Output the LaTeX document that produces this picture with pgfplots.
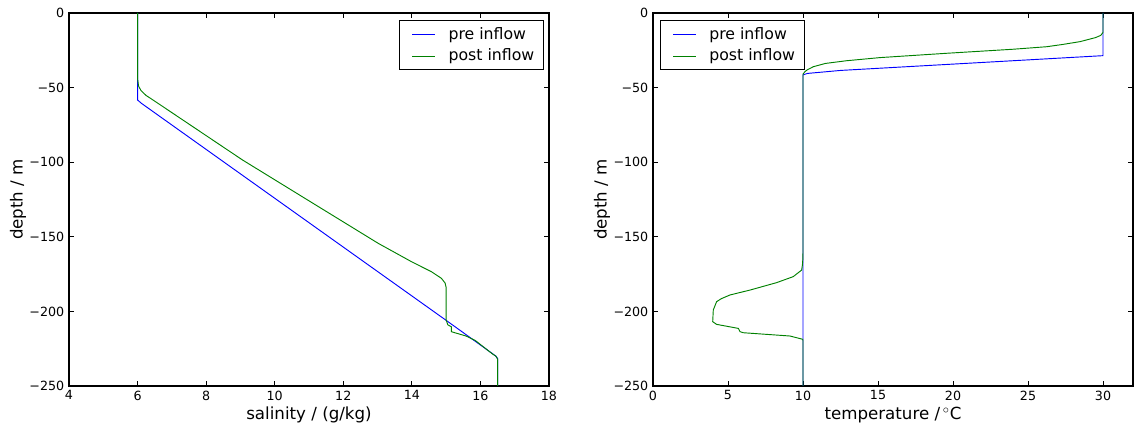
\documentclass[border=0pt]{standalone}
\usepackage{fontspec}
\setmainfont{DejaVu Sans}
\usepackage{pgfplots}
\pgfplotsset{compat=1.18}
\definecolor{preblue}{rgb}{0,0,1}
\definecolor{postgreen}{rgb}{0,0.5,0}

\pgfplotsset{
  profile/.style={
    scale only axis,width=360pt,height=279.75pt,anchor=south west,
    ymin=-250,ymax=0,
    ytick={-250,-200,-150,-100,-50,0},
    yticklabels={−250,−200,−150,−100,−50,0},
    tick label style={font=\fontsize{9.5}{11}\selectfont},
    /pgf/number format/assume math mode=true,
    ylabel={depth / m},
    every axis y label/.style={at={(axis description cs:-0.106,0.5)},rotate=90,anchor=center,
      inner sep=0pt,font=\fontsize{12.5}{14}\selectfont},
    every axis x label/.style={at={(axis description cs:0.5,-0.077)},anchor=center,
      inner sep=0pt,font=\fontsize{12.5}{14}\selectfont},
    axis line style={line width=0.8pt},
    major tick style={line width=0.7pt,black},
    major tick length=4pt,
    minor tick num=0,
    legend style={font=\fontsize{11.8}{14}\selectfont,draw=black,line width=0.6pt,
      inner xsep=5pt,inner ysep=3pt,row sep=2pt},
    legend cell align=left,
    legend image code/.code={\draw[#1,line width=0.75pt] (4.25pt,0pt) -- (21.5pt,0pt);
      \path (0pt,0pt) (29pt,0pt);},
  }
}

\begin{document}
\begin{tikzpicture}
\path[use as bounding box] (0,0) rectangle (855pt,317.25pt);

\begin{axis}[profile,at={(51.75pt,27.75pt)},
  xmin=4,xmax=18,xtick={4,6,...,18},
  xlabel={salinity / (g/kg)},
  legend style={at={(axis description cs:0.9896,0.9812)},anchor=north east}]
\addplot[preblue,line width=0.7pt] coordinates {
(6,0) (6,-58.3) (6.11,-60.5) (15.0,-206) (16.35,-228.3) (16.45,-230) (16.5,-231.5) (16.5,-250)};
\addlegendentry{pre inflow}
\addplot[postgreen,line width=0.7pt] coordinates {
(6,0) (6,-44) (6.03,-49) (6.1,-52) (6.25,-55.3) (6.45,-58.3) (9.06,-98.5) (11,-125.9) (13.02,-154.4)
(13.99,-166.7) (14.57,-173.4) (14.86,-177.8) (14.97,-181) (15.0,-184) (15.0,-205.8) (15.05,-209)
(15.15,-210.3) (15.15,-213.6) (15.58,-216.5) (15.85,-219.5) (16.35,-228.5) (16.45,-230)
(16.5,-232) (16.5,-250)};
\addlegendentry{post inflow}
\end{axis}

\begin{axis}[profile,at={(489.75pt,27.75pt)},
  xmin=0,xmax=32,xtick={0,5,...,30},
  xlabel={temperature /\,$^\circ$C},
  legend style={at={(axis description cs:0.0146,0.9812)},anchor=north west}]
\addplot[preblue,line width=0.7pt] coordinates {
(30,0) (30,-28.6) (12.5,-38.5) (10.3,-40.5) (10,-41.5) (10,-250)};
\addlegendentry{pre inflow}
\addplot[postgreen,line width=0.7pt] coordinates {
(30,0) (30,-13) (29.85,-15) (29.5,-16.5) (28.47,-19.2) (27.3,-21.1) (26.25,-22.6) (24.0,-24.3)
(19.58,-27.0) (15.13,-29.9) (12.9,-32.0) (11.5,-33.8) (10.69,-36.0) (10.3,-38) (10.13,-39.3)
(10,-41) (10,-160) (9.99,-165) (9.96,-169) (9.91,-172.3)
(9.35,-176.7) (8.25,-180.7) (6.47,-185.7) (5.13,-189) (4.55,-191.5) (4.24,-193.5) (4.02,-199) (3.98,-206.9)
(4.24,-208.7) (5.69,-211.4) (5.8,-213.6) (6.02,-214.3) (9.13,-216.5) (9.98,-218.7) (10,-219.5) (10,-250)};
\addlegendentry{post inflow}
\end{axis}
\end{tikzpicture}
\end{document}
